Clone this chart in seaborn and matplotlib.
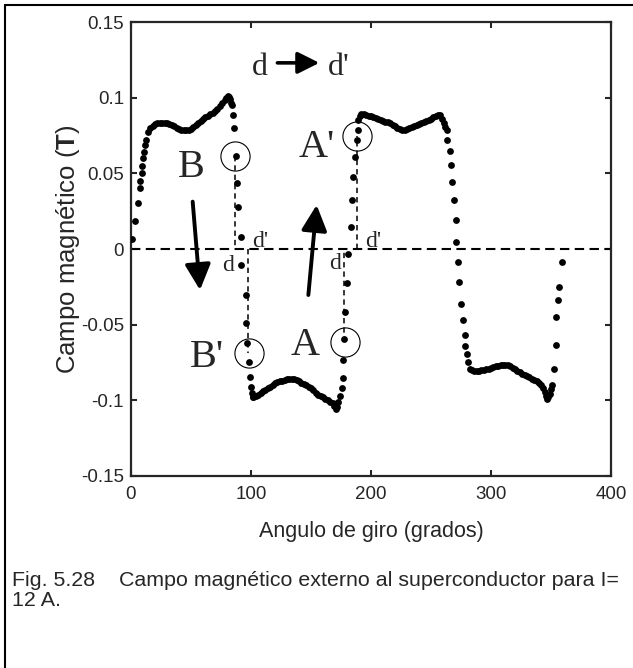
import matplotlib
matplotlib.use("Agg")
import matplotlib.pyplot as plt
import seaborn as sns
import pandas as pd
from matplotlib.lines import Line2D

sns.set_style("ticks")
plt.rcParams['font.family'] = ['Liberation Sans', 'DejaVu Sans']
plt.rcParams['mathtext.fontset'] = 'custom'
plt.rcParams['mathtext.rm'] = 'Liberation Sans'
plt.rcParams['mathtext.bf'] = 'Liberation Sans:bold'

# ---- data (angle in degrees, field in tesla) ----
ang_rise0 = [1.1, 3.3, 5.6, 7.2, 7.8, 8.9, 9.4, 10.3, 10.8, 11.7]
b_rise0 = [0.0064, 0.0185, 0.0302, 0.0405, 0.0451, 0.0500, 0.0549, 0.0600, 0.0639, 0.0687]

ang_top1 = [12.5, 14, 16, 18, 20, 22, 24, 26, 28, 30, 32, 34, 36, 38, 40, 42, 44, 46, 48, 50,
            52, 54, 56, 58, 60, 62, 64, 66, 68, 70, 72, 74, 76, 78, 79.5, 80.5, 81.5, 82.3, 83.0]
b_top1 = [0.0720, 0.0770, 0.0800, 0.0815, 0.0825, 0.0830, 0.0835, 0.0835, 0.0833, 0.0830,
          0.0825, 0.0820, 0.0810, 0.0800, 0.0793, 0.0787, 0.0785, 0.0785, 0.0787, 0.0795,
          0.0805, 0.0820, 0.0835, 0.0848, 0.0858, 0.0870, 0.0882, 0.0892, 0.0900, 0.0912,
          0.0928, 0.0945, 0.0962, 0.0982, 0.0998, 0.1008, 0.1003, 0.0990, 0.0965]

ang_fall1 = [83.9, 85.3, 86.0, 87.2, 88.6, 89.4, 91.7, 91.7, 95.8, 95.8, 97.0, 98.6, 99.2, 99.7, 100.5, 101.3]
b_fall1 = [0.0952, 0.0886, 0.0797, 0.0615, 0.0438, 0.0280, 0.0081, -0.0106, -0.0304, -0.0490,
           -0.0624, -0.0745, -0.0844, -0.0910, -0.0950, -0.0975]

ang_bot1 = [102, 104, 106, 108, 110, 112, 114, 116, 118, 120, 122, 124, 126, 128, 130, 132, 134,
            136, 138, 140, 142, 144, 146, 148, 150, 152, 154, 156, 158, 160, 162, 164, 166, 168,
            169.5, 170.5, 171.5, 172.5]
b_bot1 = [-0.0975, -0.0970, -0.0962, -0.0952, -0.0940, -0.0930, -0.0920, -0.0910, -0.0898, -0.0888,
          -0.0880, -0.0875, -0.0870, -0.0865, -0.0860, -0.0857, -0.0857, -0.0860, -0.0866, -0.0875,
          -0.0885, -0.0893, -0.0900, -0.0910, -0.0920, -0.0935, -0.0950, -0.0962, -0.0970, -0.0980,
          -0.0990, -0.1000, -0.1010, -0.1020, -0.1040, -0.1055, -0.1045, -0.1010]

ang_rise1 = [174.0, 175.6, 176.4, 177.0, 177.5, 178.3, 179.7, 181.0, 183.0, 184.0, 185.3, 186.7,
             188.0, 188.9, 189.4, 190.5]
b_rise1 = [-0.0970, -0.0920, -0.0855, -0.0734, -0.0597, -0.0414, -0.0227, -0.0030, 0.0147, 0.0324,
           0.0478, 0.0610, 0.0720, 0.0786, 0.0853, 0.0880]

ang_top2 = [192, 194, 196, 198, 200, 202, 204, 206, 208, 210, 212, 214, 216, 218, 220, 222, 224,
            226, 228, 230, 232, 234, 236, 238, 240, 242, 244, 246, 248, 250, 252, 254, 256,
            257.5, 259, 260.5, 262]
b_top2 = [0.0895, 0.0890, 0.0884, 0.0880, 0.0876, 0.0870, 0.0864, 0.0857, 0.0851, 0.0846, 0.0841,
          0.0836, 0.0830, 0.0821, 0.0811, 0.0801, 0.0792, 0.0787, 0.0786, 0.0790, 0.0797, 0.0805,
          0.0812, 0.0820, 0.0828, 0.0835, 0.0840, 0.0845, 0.0851, 0.0860, 0.0870, 0.0880, 0.0887,
          0.0885, 0.0862, 0.0835, 0.0808]

ang_fall2 = [263.0, 263.6, 265.8, 266.4, 267.5, 269.0, 270.8, 270.8, 272.5, 273.6, 275.3, 277.0,
             278.6, 278.6, 279.7, 281.0]
b_fall2 = [0.0786, 0.0720, 0.0650, 0.0553, 0.0443, 0.0324, 0.0190, 0.0048, -0.0084, -0.0216,
           -0.0363, -0.0470, -0.0568, -0.0640, -0.0696, -0.0745]

ang_bot2 = [282.5, 284, 286, 288, 290, 292, 294, 296, 298, 300, 302, 304, 306, 308, 310, 312, 314,
            316, 318, 320, 322, 324, 326, 328, 330, 332, 334, 336, 338, 340, 342,
            343.5, 344.8, 345.8, 346.6, 347.5, 348.8, 350.0]
b_bot2 = [-0.0795, -0.0801, -0.0803, -0.0804, -0.0803, -0.0801, -0.0799, -0.0795, -0.0790, -0.0785,
          -0.0779, -0.0775, -0.0771, -0.0768, -0.0766, -0.0766, -0.0769, -0.0775, -0.0785, -0.0795,
          -0.0805, -0.0815, -0.0826, -0.0834, -0.0841, -0.0849, -0.0857, -0.0864, -0.0872, -0.0885,
          -0.0900, -0.0920, -0.0945, -0.0970, -0.0990, -0.0975, -0.0955, -0.0925]

ang_rise2 = [350.8, 352.5, 354.2, 354.2, 355.6, 356.7, 358.9]
b_rise2 = [-0.0900, -0.0795, -0.0637, -0.0447, -0.0337, -0.0253, -0.0084]

x_ticks = [0, 100, 200, 300, 400]
y_ticks = [-0.15, -0.1, -0.05, 0, 0.05, 0.1, 0.15]
y_tick_labels = ["-0.15", "-0.1", "-0.05", "0", "0.05", "0.1", "0.15"]

# annotation anchors (angle, field)
circles = {"B": (87.0, 0.0615), "B'": (98.2, -0.0687), "A": (178.0, -0.0613), "A'": (188.5, 0.0747)}
guide_lines = [(86.7, 0.0615, 0.0), (97.2, 0.0, -0.0687), (177.5, -0.0613, 0.0), (188.0, 0.0, 0.0747)]
big_labels = [("B", 50.6, 0.0474), ("A'", 154.7, 0.0610), ("B'", 63.0, -0.0778), ("A", 145.0, -0.0700)]
small_labels = [("d", 81.0, -0.0145), ("d'", 107.5, 0.0010), ("d", 170.0, -0.0135), ("d'", 202.0, 0.0010)]

caption_1 = "Fig. 5.28    Campo magnético externo al superconductor para I="
caption_2 = "12 A."

# ---- figure ----
W, H = 633, 668
fig = plt.figure(figsize=(W / 100, H / 100), dpi=100)
ax = fig.add_axes([131 / W, 192 / H, 480 / W, 454 / H])

angulo = ang_rise0 + ang_top1 + ang_fall1 + ang_bot1 + ang_rise1 + ang_top2 + ang_fall2 + ang_bot2 + ang_rise2
campo = b_rise0 + b_top1 + b_fall1 + b_bot1 + b_rise1 + b_top2 + b_fall2 + b_bot2 + b_rise2
df = pd.DataFrame({"angulo": angulo, "campo": campo})
sns.scatterplot(data=df, x="angulo", y="campo", color="black", s=24, linewidth=0, ax=ax, zorder=3, legend=False)

ax.axhline(0, color="black", lw=1.5, ls=(0, (4.5, 2.6)), zorder=2)
for x, y0, y1 in guide_lines:
    ax.plot([x, x], [y0, y1], color="black", lw=1.1, ls=(0, (3.5, 2.6)), zorder=2)
for name, (cx, cy) in circles.items():
    ax.plot([cx], [cy], marker="o", ms=21, mfc="none", mec="black", mew=0.8, zorder=4)

serif = ["Liberation Serif", "DejaVu Serif"]
for t, x, y in big_labels:
    ax.text(x, y, t, family=serif, fontsize=29, ha="center", va="baseline")
for t, x, y in small_labels:
    ax.text(x, y, t, family=serif, fontsize=17, ha="center", va="baseline")

ax.text(107.5, 0.115, "d", family=serif, fontsize=23, ha="center", va="baseline")
ax.text(173.0, 0.115, "d'", family=serif, fontsize=23, ha="center", va="baseline")
ax.annotate("", xy=(157.0, 0.123), xytext=(122.0, 0.123),
            arrowprops=dict(arrowstyle="-|>,head_length=1.2,head_width=0.6", lw=2.6,
                            color="black", mutation_scale=11, shrinkA=0, shrinkB=0))
ax.annotate("", xy=(57.5, -0.0271), xytext=(51.4, 0.0313),
            arrowprops=dict(arrowstyle="-|>,head_length=1.3,head_width=0.65", lw=2.8,
                            color="black", mutation_scale=12, shrinkA=0, shrinkB=0))
ax.annotate("", xy=(154.7, 0.0291), xytext=(147.8, -0.0304),
            arrowprops=dict(arrowstyle="-|>,head_length=1.3,head_width=0.65", lw=2.8,
                            color="black", mutation_scale=12, shrinkA=0, shrinkB=0))

ax.set_xlim(0, 400)
ax.set_ylim(-0.15, 0.15)
ax.set_xticks(x_ticks)
ax.set_xticklabels([str(v) for v in x_ticks])
ax.set_yticks(y_ticks)
ax.set_yticklabels(y_tick_labels)
ax.tick_params(direction="in", length=4, width=1.5, top=True, right=True, labelsize=13.5, pad=5)
ax.tick_params(axis="x", pad=7)
for sp in ax.spines.values():
    sp.set_linewidth(1.6)
    sp.set_visible(True)
ax.set_xlabel("Angulo de giro (grados)", fontsize=15.5, va="center")
ax.xaxis.set_label_coords(0.5, (476 - 531) / 454)
ax.set_ylabel(r"Campo magnético ($\mathbf{T}$)", fontsize=18.5, va="center")
ax.yaxis.set_label_coords((68 - 131) / 480, 0.5)

fig.text(12 / W, 1 - 586 / H, caption_1, fontsize=15.4, ha="left", va="baseline")
fig.text(12 / W, 1 - 606 / H, caption_2, fontsize=15.4, ha="left", va="baseline")

fig.add_artist(Line2D([5 / W, 1], [1 - 5 / H, 1 - 5 / H], transform=fig.transFigure, color="black", lw=1.5))
fig.add_artist(Line2D([5 / W, 5 / W], [0, 1 - 5 / H], transform=fig.transFigure, color="black", lw=1.5))

fig.savefig("out.png", dpi=100)
